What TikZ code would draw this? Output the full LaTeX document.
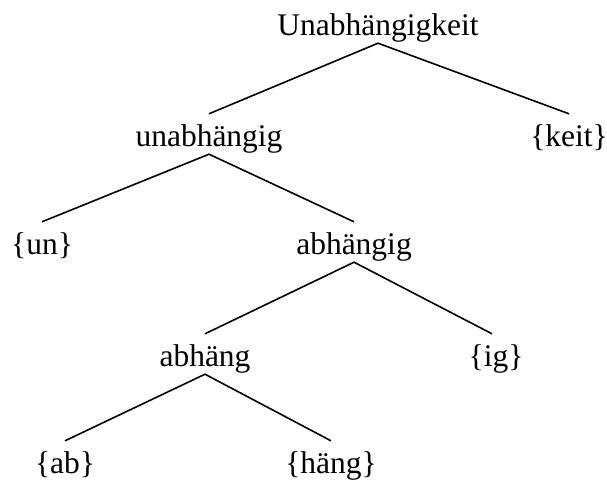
\documentclass[tikz,border=0pt]{standalone}
\usepackage{fontspec}
\setmainfont{Liberation Serif}
\begin{document}
\begin{tikzpicture}[x=1pt,y=-1pt,
  word/.style={anchor=base,inner sep=0pt,text height=32pt,text depth=8pt,
    font=\fontsize{31.5}{38}\selectfont},
  branch/.style={line width=1.6pt}]
\useasboundingbox (0,0) rectangle (607,482);
\node[word] (root) at (378,35) {Unabhängigkeit};
\node[word] (unabh) at (209,146) {unabhängig};
\node[word] (keit) at (569,146) {\{keit\}};
\node[word] (un) at (42,254) {\{un\}};
\node[word] (abhig) at (354,254) {abhängig};
\node[word] (abh) at (205,366) {abhäng};
\node[word] (ig) at (496,366) {\{ig\}};
\node[word] (ab) at (65,473) {\{ab\}};
\node[word] (haeng) at (331,473) {\{häng\}};
\draw[branch] (unabh.north) -- (root.south) -- (keit.north);
\draw[branch] (un.north) -- (unabh.south) -- (abhig.north);
\draw[branch] (abh.north) -- (abhig.south) -- ([xshift=-4pt]ig.north);
\draw[branch] (ab.north) -- (abh.south) -- (haeng.north);
\end{tikzpicture}
\end{document}
